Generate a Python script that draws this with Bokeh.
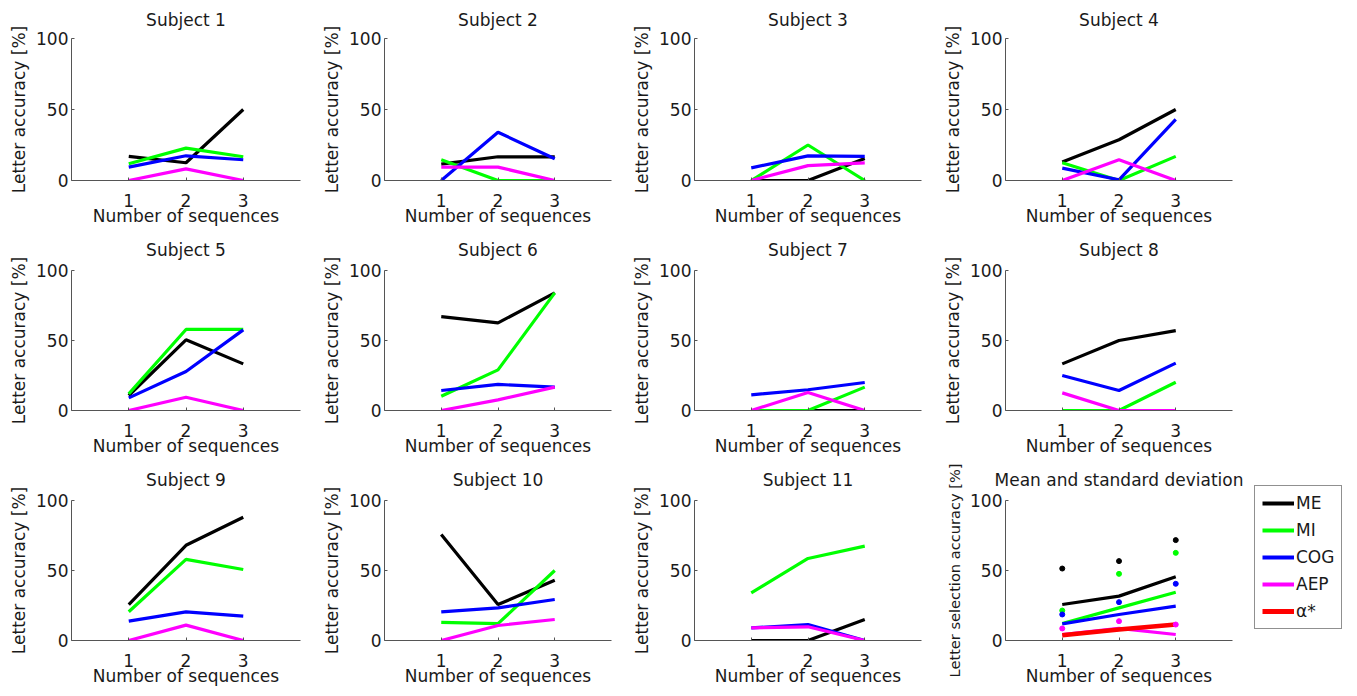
from bokeh.plotting import figure
from bokeh.layouts import row, column
from bokeh.models import FixedTicker, Range1d, Legend, LegendItem
from bokeh.embed import file_html
from bokeh.resources import INLINE

# ---------------- data ----------------
seq = [1, 2, 3]
x_ticks = [1, 2, 3]
y_ticks = [0, 50, 100]
subject_titles = ["Subject %d" % i for i in range(1, 12)]
method_names = ["ME", "MI", "COG", "AEP"]
alpha_name = "α*"

me_acc = [
    [17, 12.5, 50],
    [11.5, 16.7, 16.7],
    [0, 0, 15.5],
    [13, 28.7, 50],
    [10.7, 50.5, 33.3],
    [67, 62.6, 84],
    [0, 0, 0],
    [33.3, 50, 57.1],
    [25.7, 68, 88],
    [75.7, 25.7, 43],
    [0, 0, 15],
]
mi_acc = [
    [11.8, 22.8, 16.7],
    [14.6, 0, 0],
    [0, 25, 0],
    [12.5, 0, 17],
    [11.9, 57.9, 57.9],
    [10.2, 29, 84],
    [0, 0, 16.7],
    [0, 0, 20.2],
    [20.5, 57.9, 50.7],
    [13, 12, 50],
    [34, 58.6, 67.4],
]
cog_acc = [
    [9.4, 17.4, 14.6],
    [0, 34, 15.3],
    [8.9, 17.3, 17],
    [8.7, 0.5, 43],
    [9, 27.9, 57.6],
    [14.3, 18.6, 16.7],
    [11.2, 14.8, 20],
    [25, 14.3, 33.8],
    [13.8, 20.5, 17.4],
    [20.5, 23.3, 29.3],
    [9, 11.4, 0],
]
aep_acc = [
    [0, 8.2, 0],
    [9.4, 9.4, 0],
    [0, 10.5, 12.4],
    [0, 14.6, 0],
    [0, 9.5, 0],
    [0, 7.6, 16.7],
    [0, 12.9, 0],
    [12.6, 0, 0],
    [0, 11, 0],
    [0, 10.7, 15],
    [9, 9.8, 0],
]

mean_me = [25.7, 31.7, 45.5]
mean_mi = [12.1, 23.3, 34.5]
mean_cog = [11.9, 18.6, 24.5]
mean_aep = [4.3, 8.6, 4.3]
mean_alpha = [3.8, 7.9, 11.4]

upper_me = [51.4, 56.7, 71.7]
upper_mi = [21.4, 47.6, 62.6]
upper_cog = [18.6, 27.4, 40.5]
upper_aep = [8.6, 13.8, 11.4]

colors = ["#000000", "#00ff00", "#0000ff", "#ff00ff"]
alpha_color = "#ff0000"

# ---------------- style ----------------
FONT = "DejaVu Sans"
AXIS_COLOR = "#555555"
TEXT_COLOR = "#1a1a1a"
FRAME_W = 229
FRAME_H = 142
LINE_W = 3.2


def make_fig(title, width, top, bottom, ylabel, left=63, ylabel_size="17px",
             title_standoff=18):
    right = width - left - FRAME_W
    height = top + FRAME_H + bottom
    p = figure(width=width, height=height,
               x_range=Range1d(0, 4), y_range=Range1d(0, 100),
               output_backend="svg", toolbar_location=None,
               min_border_left=left, min_border_right=right,
               min_border_top=top, min_border_bottom=bottom)
    p.title.text = title
    p.title.align = "center"
    p.title.vertical_align = "top"
    p.title.standoff = title_standoff
    p.title.text_font = FONT
    p.title.text_font_size = "17px"
    p.title.text_font_style = "normal"
    p.title.text_color = TEXT_COLOR
    p.outline_line_color = None
    p.xgrid.visible = False
    p.ygrid.visible = False
    p.background_fill_color = "white"
    p.border_fill_color = "white"

    for ax in (p.xaxis, p.yaxis):
        ax.axis_line_color = AXIS_COLOR
        ax.axis_line_width = 1
        ax.major_tick_line_color = AXIS_COLOR
        ax.major_tick_in = 3
        ax.major_tick_out = 0
        ax.minor_tick_line_color = None
        ax.major_label_text_font = FONT
        ax.major_label_text_font_size = "17px"
        ax.major_label_text_color = TEXT_COLOR
        ax.axis_label_text_font = FONT
        ax.axis_label_text_font_style = "normal"
        ax.axis_label_text_color = TEXT_COLOR

    p.xaxis.ticker = FixedTicker(ticks=x_ticks)
    p.xaxis.major_label_standoff = 13
    p.xaxis.axis_label = "Number of sequences"
    p.xaxis.axis_label_text_font_size = "17px"
    p.xaxis.axis_label_standoff = -4

    p.yaxis.ticker = FixedTicker(ticks=y_ticks)
    p.yaxis.major_label_standoff = 3
    p.yaxis.axis_label = ylabel
    p.yaxis.axis_label_text_font_size = ylabel_size
    p.yaxis.axis_label_standoff = 4
    return p


def subject_fig(i, width, top, bottom, left=63, title_standoff=18):
    p = make_fig(subject_titles[i], width, top, bottom, "Letter accuracy [%]",
                 left=left, title_standoff=title_standoff)
    for vals, c in zip([me_acc[i], mi_acc[i], cog_acc[i], aep_acc[i]], colors):
        p.line(seq, vals, line_color=c, line_width=LINE_W)
    return p


col_widths = [319, 310, 311]
col_lefts = [71, 63, 63]
cols = []
for c in range(3):
    w = col_widths[c]
    lf = col_lefts[c]
    f_a = subject_fig(c, w, 38, 50, left=lf, title_standoff=14)
    f_b = subject_fig(c + 4, w, 38, 50, left=lf)
    f_c = subject_fig(c + 8, w, 38, 52, left=lf)
    cols.append(column(f_a, f_b, f_c))

f4 = subject_fig(3, 312, 38, 50, title_standoff=14)
f8 = subject_fig(7, 312, 38, 50)

# mean panel
f12 = make_fig("Mean and standard deviation", 312, 38, 52,
               "Letter selection accuracy [%]", ylabel_size="14.6px")
for vals, c in zip([mean_me, mean_mi, mean_cog, mean_aep], colors):
    f12.line(seq, vals, line_color=c, line_width=LINE_W)
f12.line(seq, mean_alpha, line_color=alpha_color, line_width=4.5)
for ups, c in zip([upper_me, upper_mi, upper_cog, upper_aep], colors):
    f12.scatter(seq, ups, size=5, color=c)

cols.append(column(f4, f8, f12))

# legend panel (separate canvas to the right of the mean panel);
# its proxy lines lie outside its 0..1 range, so only the legend shows
leg_fig = figure(width=95, height=692, x_range=Range1d(0, 1), y_range=Range1d(0, 1),
                 output_backend="svg", toolbar_location=None,
                 min_border=0, x_axis_type=None, y_axis_type=None)
leg_fig.outline_line_color = None
leg_fig.xgrid.visible = False
leg_fig.ygrid.visible = False
leg_renderers = []
for vals, c in zip([mean_me, mean_mi, mean_cog, mean_aep], colors):
    leg_renderers.append(leg_fig.line(seq, vals, line_color=c, line_width=4))
leg_renderers.append(leg_fig.line(seq, mean_alpha, line_color=alpha_color, line_width=5))
items = [LegendItem(label=n, renderers=[r])
         for n, r in zip(method_names + [alpha_name], leg_renderers)]
legend = Legend(items=items, location=(2, 63), margin=0,
                glyph_width=32, glyph_height=20, label_height=20,
                spacing=7, padding=7, label_standoff=2,
                label_text_font=FONT, label_text_font_size="17px",
                label_text_color=TEXT_COLOR,
                border_line_color="#222222", border_line_width=1,
                background_fill_color="white", background_fill_alpha=1.0)
leg_fig.add_layout(legend)

layout = row(*cols, leg_fig)

open("out.html", "w").write(file_html(layout, INLINE))
